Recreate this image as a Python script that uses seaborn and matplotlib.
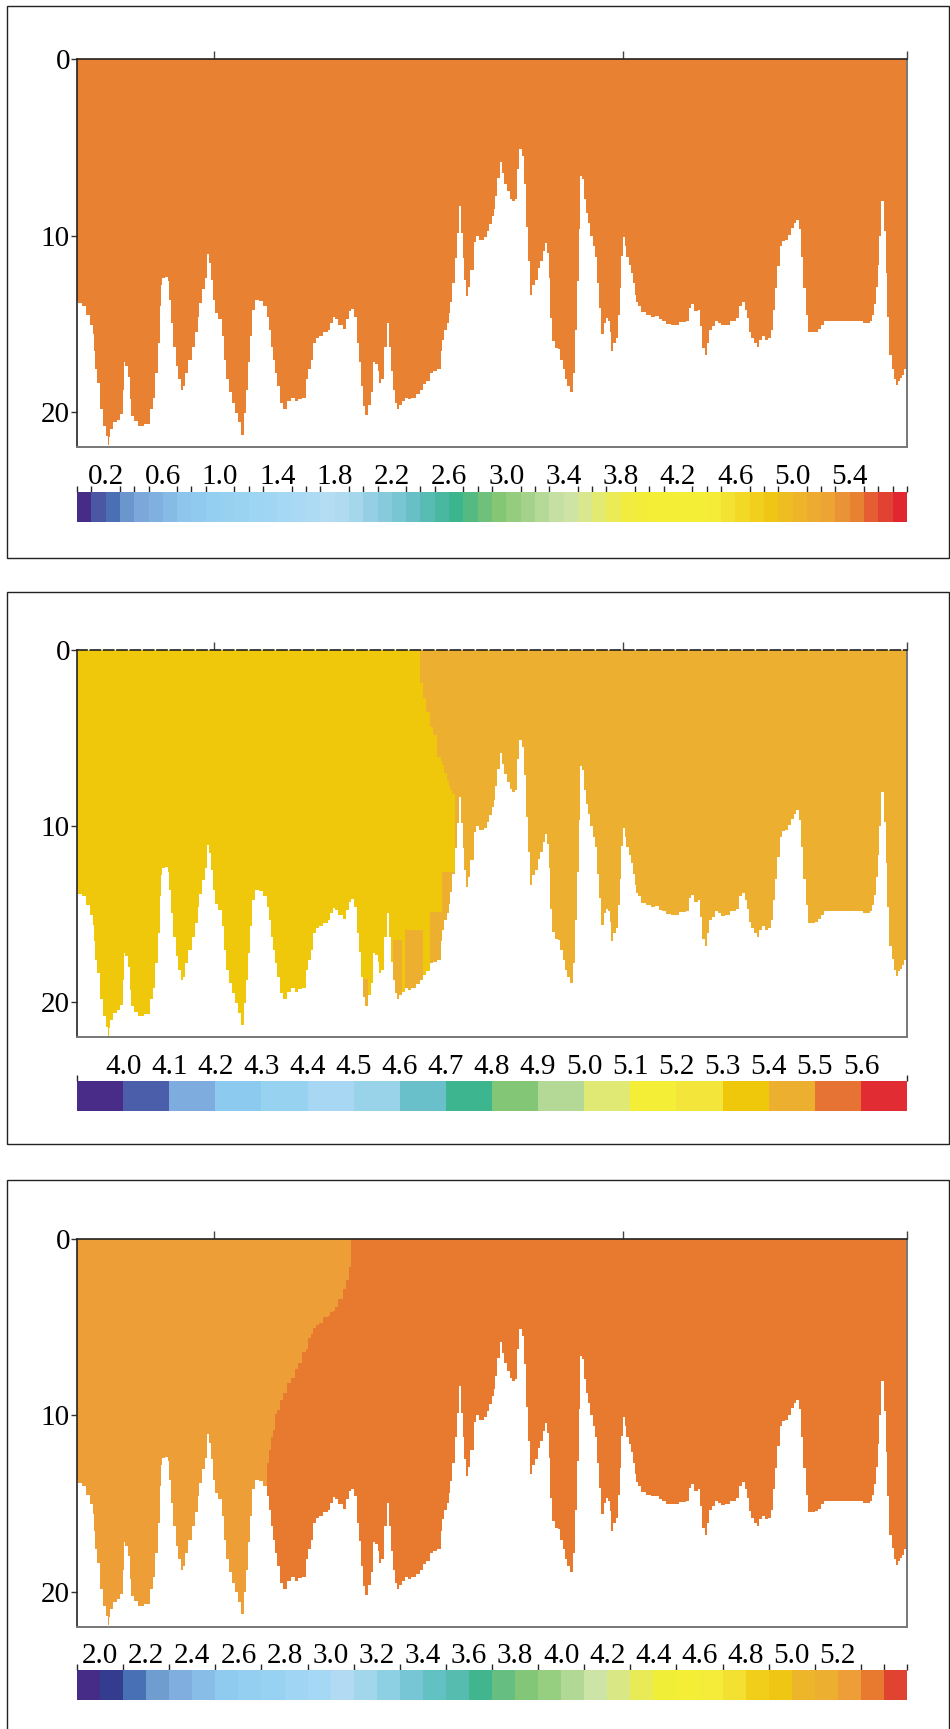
import numpy as np
import matplotlib
matplotlib.use("Agg")
import matplotlib.pyplot as plt
import seaborn as sns
from matplotlib.colors import ListedColormap, BoundaryNorm
from matplotlib.patches import Rectangle

# ---------------- data ----------------
# bottom profile along the section (distance in km, bottom depth in m)
distance_km = [
    0.00, 0.02, 0.05, 0.08, 0.11, 0.12, 0.13, 0.14, 0.16, 0.18, 0.20, 0.22, 0.23, 0.24, 0.25, 0.28,
    0.30, 0.33, 0.34, 0.35, 0.36, 0.38, 0.39, 0.40, 0.44, 0.46, 0.52, 0.55, 0.57, 0.58, 0.60, 0.61,
    0.62, 0.63, 0.66, 0.67, 0.68, 0.69, 0.72, 0.73, 0.75, 0.77, 0.78, 0.80, 0.83, 0.85, 0.88, 0.89,
    0.90, 0.93, 0.94, 0.96, 0.98, 0.99, 1.00, 1.02, 1.05, 1.07, 1.08, 1.10, 1.12, 1.15, 1.17, 1.19,
    1.22, 1.23, 1.25, 1.26, 1.28, 1.29, 1.32, 1.35, 1.38, 1.40, 1.41, 1.43, 1.44, 1.46, 1.47, 1.50,
    1.52, 1.56, 1.58, 1.61, 1.63, 1.67, 1.68, 1.71, 1.72, 1.74, 1.76, 1.78, 1.83, 1.84, 1.87, 1.88,
    1.90, 1.93, 1.96, 1.98, 2.00, 2.02, 2.04, 2.06, 2.07, 2.09, 2.10, 2.12, 2.15, 2.16, 2.17, 2.20,
    2.21, 2.22, 2.24, 2.26, 2.28, 2.29, 2.31, 2.32, 2.34, 2.35, 2.37, 2.39, 2.41, 2.44, 2.46, 2.50,
    2.52, 2.55, 2.57, 2.60, 2.62, 2.66, 2.67, 2.68, 2.70, 2.72, 2.73, 2.74, 2.76, 2.78, 2.79, 2.81,
    2.82, 2.83, 2.84, 2.86, 2.87, 2.89, 2.92, 2.93, 2.96, 3.00, 3.01, 3.03, 3.05, 3.06, 3.07, 3.09,
    3.11, 3.12, 3.14, 3.16, 3.18, 3.20, 3.22, 3.23, 3.25, 3.27, 3.28, 3.30, 3.31, 3.32, 3.34, 3.37,
    3.39, 3.40, 3.42, 3.43, 3.45, 3.46, 3.47, 3.49, 3.51, 3.53, 3.55, 3.57, 3.58, 3.60, 3.62, 3.64,
    3.66, 3.67, 3.68, 3.69, 3.71, 3.72, 3.74, 3.75, 3.77, 3.79, 3.80, 3.82, 3.83, 3.85, 3.87, 3.88,
    3.90, 3.91, 3.92, 3.94, 3.95, 3.97, 3.98, 3.99, 4.01, 4.02, 4.03, 4.05, 4.07, 4.08, 4.09, 4.10,
    4.12, 4.15, 4.19, 4.22, 4.25, 4.27, 4.30, 4.33, 4.37, 4.40, 4.42, 4.44, 4.48, 4.49, 4.51, 4.53,
    4.54, 4.56, 4.57, 4.59, 4.61, 4.62, 4.64, 4.66, 4.68, 4.71, 4.73, 4.76, 4.81, 4.84, 4.86, 4.88,
    4.90, 4.91, 4.93, 4.95, 4.97, 4.99, 5.00, 5.03, 5.05, 5.08, 5.09, 5.11, 5.12, 5.14, 5.16, 5.17,
    5.20, 5.22, 5.24, 5.26, 5.28, 5.30, 5.31, 5.33, 5.35, 5.36, 5.39, 5.42, 5.44, 5.46, 5.49, 5.57,
    5.66, 5.75, 5.76, 5.80, 5.82, 5.83, 5.85, 5.86, 5.87, 5.88, 5.90, 5.91, 5.92, 5.93, 5.94, 5.96,
    5.98, 5.99, 6.01, 6.02, 6.04, 6.05, 6.07,
]
bottom_depth_m = [
    13.64, 13.83, 14.02, 14.49, 15.05, 15.62, 16.57, 17.60, 18.36, 19.87, 20.82, 21.38, 21.90, 21.47, 21.00, 20.62,
    20.44, 20.15, 18.74, 17.22, 17.41, 17.98, 19.30, 20.25, 20.53, 20.82, 20.72, 19.87, 19.21, 17.79, 16.09, 14.02,
    12.79, 12.41, 12.35, 12.60, 13.64, 14.96, 16.28, 17.41, 18.17, 18.74, 18.55, 17.79, 17.04, 16.28, 15.52, 14.58,
    13.83, 13.07, 12.41, 11.05, 11.56, 12.50, 13.64, 14.39, 14.77, 15.72, 17.04, 18.17, 18.92, 19.49, 20.06, 20.62,
    21.29, 20.06, 18.74, 17.22, 15.72, 14.20, 13.64, 13.68, 14.02, 14.58, 15.34, 16.28, 17.04, 17.79, 18.55, 19.49,
    19.87, 19.40, 19.21, 19.40, 19.26, 19.21, 18.17, 17.60, 17.04, 16.09, 15.81, 15.68, 15.52, 15.34, 14.96, 14.67,
    14.77, 15.05, 15.30, 14.77, 14.30, 14.16, 14.58, 16.09, 17.13, 18.55, 19.68, 20.21, 19.59, 18.92, 17.22, 17.32,
    17.70, 18.36, 18.17, 16.28, 14.96, 16.28, 17.70, 18.74, 19.49, 19.87, 19.59, 19.40, 19.21, 19.30, 19.21, 19.02,
    18.74, 18.45, 18.27, 17.79, 17.70, 17.60, 16.57, 15.90, 15.34, 14.96, 14.39, 13.73, 12.69, 11.27, 9.86, 8.35,
    9.86, 11.27, 12.50, 13.45, 12.88, 11.94, 10.33, 10.01, 10.24, 10.09, 9.77, 9.33, 8.92, 8.48, 7.75, 6.74,
    5.86, 6.46, 7.03, 7.50, 7.88, 8.03, 7.97, 6.18, 5.10, 5.48, 7.12, 9.48, 11.47, 13.35, 12.79, 12.50,
    11.84, 11.47, 10.90, 10.43, 10.99, 12.41, 14.68, 16.00, 16.38, 16.43, 17.04, 17.60, 18.17, 18.55, 18.92, 17.79,
    15.34, 12.60, 9.67, 6.59, 6.80, 7.97, 8.73, 9.29, 10.01, 10.62, 11.22, 12.69, 14.11, 15.62, 14.96, 14.68,
    14.87, 15.43, 16.57, 16.09, 15.81, 14.49, 12.98, 11.14, 10.09, 10.62, 11.18, 11.65, 12.12, 12.69, 13.35, 13.79,
    14.02, 14.36, 14.49, 14.58, 14.55, 14.77, 14.87, 15.00, 15.05, 15.05, 14.92, 14.92, 14.87, 14.11, 13.92, 14.30,
    14.30, 14.20, 15.15, 16.38, 16.81, 16.09, 15.34, 15.15, 14.87, 14.96, 15.11, 15.05, 14.87, 14.68, 14.02, 13.79,
    14.20, 14.68, 15.43, 15.81, 16.09, 16.28, 15.90, 15.72, 15.90, 15.81, 15.34, 14.20, 12.98, 11.75, 10.62, 10.28,
    10.24, 9.95, 9.58, 9.29, 9.10, 9.67, 11.18, 12.98, 14.49, 15.49, 15.49, 15.43, 15.30, 15.05, 14.87, 14.87,
    14.87, 14.87, 14.96, 14.96, 14.87, 14.49, 13.92, 12.88, 11.65, 10.01, 8.07, 8.07, 9.77, 12.12, 14.58, 16.81,
    17.57, 18.13, 18.51, 18.27, 18.08, 17.89, 17.60,
]

# panel 1: uniform value
p1_value = 5.45

# panel 2: two water masses separated by a front
p2_left_value, p2_right_value = 5.35, 5.45
p2_front_depth = [0.0, 1.70, 2.27, 3.21, 4.16, 5.10, 6.05, 7.00, 7.94, 8.22, 8.40, 22.0]
p2_front_km = [2.50, 2.51, 2.54, 2.56, 2.59, 2.63, 2.66, 2.70, 2.74, 2.76, 2.78, 2.78]
# near-bottom pockets of the right-hand water inside the left water mass
p2_pocket_x0 = [2.10, 2.32, 2.41, 2.60, 2.68]
p2_pocket_x1 = [2.15, 2.38, 2.53, 2.68, 2.78]
p2_pocket_top = [18.7, 16.45, 15.9, 14.9, 12.6]

# panel 3
p3_left_value, p3_right_value = 5.25, 5.35
p3_front_depth = [0.0, 1.55, 2.31, 3.26, 4.00, 4.86, 5.14, 6.10, 7.04, 7.99, 8.93, 9.88, 10.80, 11.96, 12.71, 13.65, 22.0]
p3_front_km = [2.01, 2.00, 1.98, 1.94, 1.89, 1.76, 1.73, 1.69, 1.63, 1.57, 1.51, 1.46, 1.44, 1.41, 1.40, 1.39, 1.39]

# colour scales
p1_colors = [
    "#472C87", "#4B57A2", "#4A6FB5", "#6A95CD", "#7CA7DB", "#80B0E0", "#86BBE6", "#8CC6EC",
    "#90CBEF", "#94CFF1", "#97D1F2", "#9AD3F2", "#9DD5F3", "#A1D6F3", "#A5D8F4", "#A9D9F4",
    "#AEDBF4", "#B4DDF3", "#B0DAF0", "#A4D6EC", "#95CFE6", "#86CADC", "#78C6D3", "#68C0C6",
    "#58BBB4", "#4AB7A1", "#3BB58E", "#55BA82", "#6FC07A", "#84C674", "#96CC7D", "#A5D28A",
    "#B5D997", "#C6E0A3", "#CFE4A4", "#D9E88E", "#E2EA72", "#EBEC55", "#F0EC40", "#F2ED38",
    "#F4EE36", "#F4EE36", "#F4EE36", "#F4EE36", "#F4EC37", "#F3E232", "#F2D928", "#F1CF1C",
    "#EFC613", "#EEBD22", "#EEB42A", "#EDAC2F", "#EDA432", "#EA9236", "#E88232", "#E55E33",
    "#E24232", "#E0262F",
]
p1_range = (0.0, 5.8)
p1_ticks = [0.2, 0.6, 1.0, 1.4, 1.8, 2.2, 2.6, 3.0, 3.4, 3.8, 4.2, 4.6, 5.0, 5.4]

p2_colors = [
    "#482C87", "#4B5EAA", "#7FACDE", "#8DCAEF", "#97D2F1", "#A8D7F4", "#98D3EA", "#69C0CA",
    "#3DB58F", "#83C676", "#B4D996", "#E0E974", "#F4EE36", "#F3E53A", "#EFC80B", "#ECAF30",
    "#E67233", "#E02C32",
]
p2_range = (3.9, 5.7)
p2_ticks = [4.0, 4.1, 4.2, 4.3, 4.4, 4.5, 4.6, 4.7, 4.8, 4.9, 5.0, 5.1, 5.2, 5.3, 5.4, 5.5, 5.6]

p3_colors = [
    "#472C87", "#343C8F", "#4870B4", "#6F9DD0", "#80AFDF", "#88BDE8", "#8FCAEF", "#94CFF1",
    "#98D2F2", "#A0D6F3", "#A5D8F4", "#B2DBF3", "#A2D6EB", "#8DCFE3", "#77C6D6", "#62C1C3",
    "#55BCAF", "#40B58E", "#66BF80", "#82C677", "#97CF80", "#B2D895", "#CCE4A6", "#D9E885",
    "#E8EB56", "#F1EE38", "#F4EE36", "#F4EC38", "#F4E031", "#F1CE1A", "#EFC613", "#EDB52A",
    "#EDAF30", "#ED9E36", "#E87A30", "#E04431",
]
p3_range = (1.9, 5.5)
p3_ticks = [2.0, 2.2, 2.4, 2.6, 2.8, 3.0, 3.2, 3.4, 3.6, 3.8, 4.0, 4.2, 4.4, 4.6, 4.8, 5.0, 5.2]

depth_ticks = [0, 10, 20]
top_ticks_km = [1.0, 4.0, 6.08]

# ---------------- layout ----------------
W, H = 950, 1729
X_MAX = 6.08
D_MAX = 22.0
FS = 21

sns.set_theme(style="white")
plt.rcParams["font.family"] = ["Liberation Serif", "DejaVu Serif"]
plt.rcParams["axes.facecolor"] = "white"

fig = plt.figure(figsize=(W / 100, H / 100), dpi=100)


def fx(px):
    return px / W


def fy(py):
    return 1 - py / H


dist = np.asarray(distance_km, float)
bot = np.asarray(bottom_depth_m, float)
mid = (dist[:-1] + dist[1:]) / 2
x_edges = np.concatenate([[0.0], mid, [X_MAX]])
x_cent = dist
y_edges = np.linspace(0, D_MAX, 441)
y_cent = (y_edges[:-1] + y_edges[1:]) / 2


def build_field(left_val, right_val, fdepth=None, fkm=None, px0=None, px1=None, ptop=None):
    if fdepth is None:
        Z = np.full((y_cent.size, x_cent.size), left_val)
    else:
        xb = np.interp(y_cent, fdepth, fkm)
        left = x_cent[None, :] < xb[:, None]
        if px0 is not None:
            for a, b, t in zip(px0, px1, ptop):
                cols = (x_cent >= a) & (x_cent < b)
                left[:, cols] &= (y_cent[:, None] < t)
        Z = np.where(left, left_val, right_val)
    mask = y_cent[:, None] > bot[None, :]
    return np.ma.masked_where(mask, Z)


panels = [
    dict(Z=build_field(p1_value, p1_value), colors=p1_colors, rng=p1_range, ticks=p1_ticks,
         ax_top=59.3, ax_bot=447.0, cb=(491.7, 521.7), frame=(6.4, 558.0), dashed=False),
    dict(Z=build_field(p2_left_value, p2_right_value, p2_front_depth, p2_front_km,
                       p2_pocket_x0, p2_pocket_x1, p2_pocket_top),
         colors=p2_colors, rng=p2_range, ticks=p2_ticks,
         ax_top=650.0, ax_bot=1037.3, cb=(1081.0, 1110.7), frame=(592.3, 1144.0), dashed=True),
    dict(Z=build_field(p3_left_value, p3_right_value, p3_front_depth, p3_front_km),
         colors=p3_colors, rng=p3_range, ticks=p3_ticks,
         ax_top=1239.3, ax_bot=1626.8, cb=(1670.0, 1700.0), frame=(1180.0, 1740.0), dashed=False),
]

AX_L, AX_R = 77.0, 907.0

for p in panels:
    # outer frame
    ft, fb = p["frame"]
    fig.add_artist(Rectangle((fx(7.3), fy(fb)), fx(948.5) - fx(7.3), fy(ft) - fy(fb),
                             transform=fig.transFigure, fill=False, edgecolor="#222222", lw=1.0))

    ax = fig.add_axes([fx(AX_L), fy(p["ax_bot"]), fx(AX_R) - fx(AX_L), fy(p["ax_top"]) - fy(p["ax_bot"])])
    n = len(p["colors"])
    cmap = ListedColormap(p["colors"])
    bounds = np.round(np.linspace(p["rng"][0], p["rng"][1], n + 1), 3)
    norm = BoundaryNorm(bounds, n)
    mesh = ax.pcolormesh(x_edges, y_edges, p["Z"], cmap=cmap, norm=norm,
                         shading="flat", edgecolors="none", antialiased=False, linewidth=0)
    ax.set_xlim(0, X_MAX)
    ax.set_ylim(D_MAX, 0)
    ax.xaxis.tick_top()
    ax.set_xticks(top_ticks_km)
    ax.set_xticklabels([])
    ax.set_yticks(depth_ticks)
    ax.set_yticklabels([str(t) for t in depth_ticks], fontsize=FS)
    ax.tick_params(axis="x", which="both", direction="out", length=6, width=1.0, color="#444444",
                   top=True, bottom=False)
    ax.tick_params(axis="y", direction="out", length=4, width=1.0, color="#333333", pad=1,
                   left=True, right=False, labelcolor="black")
    for side in ["left", "top"]:
        ax.spines[side].set_color("#222222")
        ax.spines[side].set_linewidth(1.2)
    for side in ["right", "bottom"]:
        ax.spines[side].set_color("#777777")
        ax.spines[side].set_linewidth(1.4)
    if p["dashed"]:
        ax.spines["top"].set_linestyle((0, (6, 2)))
    ax.grid(False)

    c0, c1 = p["cb"]
    cax = fig.add_axes([fx(AX_L), fy(c1), fx(AX_R) - fx(AX_L), fy(c0) - fy(c1)])
    cb = fig.colorbar(mesh, cax=cax, orientation="horizontal", ticks=p["ticks"])
    cb.outline.set_visible(False)
    cax.xaxis.set_ticks_position("top")
    cax.xaxis.set_label_position("top")
    cb.set_ticklabels([f"{t:.1f}" for t in p["ticks"]])
    cax.tick_params(length=0, pad=1, labelsize=FS, labelcolor="black")

fig.savefig("out.png", dpi=100, facecolor="white")
